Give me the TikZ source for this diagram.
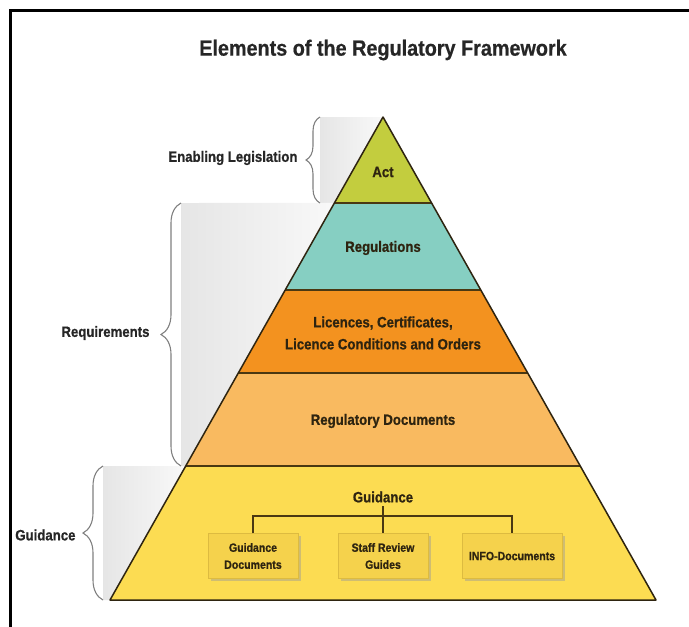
\documentclass[tikz,border=0pt]{standalone}
\usepackage{fontspec}
\setmainfont{Liberation Sans}[FakeStretch=0.88, BoldFeatures={FakeBold=0.8}]
\newfontfamily\titlefont{Liberation Sans}[FakeStretch=0.9, BoldFeatures={FakeBold=0.6}]
\usetikzlibrary{calc}
\usetikzlibrary{decorations.pathreplacing}
\usetikzlibrary{shadows}

\definecolor{actgreen}{HTML}{C3CD3E}
\definecolor{regteal}{HTML}{86CFC2}
\definecolor{licorange}{HTML}{F3921F}
\definecolor{docorange}{HTML}{F9BA60}
\definecolor{guideyellow}{HTML}{FCDC52}
\definecolor{boxyellow}{HTML}{F5D24C}
\definecolor{boxedge}{HTML}{DDBB40}
\definecolor{inkbrown}{HTML}{2E2410}
\definecolor{sepbrown}{HTML}{4A3812}

\begin{document}
\begin{tikzpicture}[x=1pt,y=-1pt,
    label/.style={font=\fontsize{15}{22}\selectfont\bfseries, text=inkbrown, align=center},
    side/.style={font=\fontsize{15}{18}\selectfont\bfseries, text=black!85, anchor=east},
    guidebox/.style={draw=boxedge, line width=0.5pt, fill=boxyellow,
        minimum width=90pt, minimum height=45pt, align=center,
        font=\fontsize{12}{17}\selectfont\bfseries, text=inkbrown,
        drop shadow={shadow xshift=2.5pt, shadow yshift=-2.5pt, fill=black!40, opacity=0.45}},
    sidebrace/.style={decorate, decoration={brace, amplitude=#1}, draw=black!50, line width=1.1pt},
    sepline/.style={draw=sepbrown, line width=2pt},
    connector/.style={draw=sepbrown, line width=1.3pt},
    ]
        \useasboundingbox (0,0) rectangle (689,627);

        % Define the levels of the bands (fraction of the height)
        \def\fa{0.178}   % act / regulations
        \def\fb{0.358}   % regulations / licences
        \def\fc{0.530}   % licences / regulatory documents
        \def\fd{0.7226}  % regulatory documents / guidance

        % Calculate the coordinates of the points
        \coordinate (Top) at (383, 117);
        \coordinate (BL) at (110, 600);
        \coordinate (BR) at (656, 600);
        \coordinate (L1) at ($(Top)!\fa!(BL)$);
        \coordinate (R1) at ($(Top)!\fa!(BR)$);
        \coordinate (L2) at ($(Top)!\fb!(BL)$);
        \coordinate (R2) at ($(Top)!\fb!(BR)$);
        \coordinate (L3) at ($(Top)!\fc!(BL)$);
        \coordinate (R3) at ($(Top)!\fc!(BR)$);
        \coordinate (L4) at ($(Top)!\fd!(BL)$);
        \coordinate (R4) at ($(Top)!\fd!(BR)$);

        % Draw the frame
        \draw[line width=3pt] (10,627) -- (10,10) -- (689,10);

        % Draw title
        \node[font=\titlefont\fontsize{22}{24}\selectfont\bfseries, text=black!85] (title) at (383, 50) {Elements of the Regulatory Framework};

        % Draw gray shades beside the braces
        \shade[left color=gray!20, right color=gray!5] (320,117) -- (Top) -- (L1) -- (320,203) -- cycle;
        \shade[left color=gray!20, right color=gray!5] (181,203) -- (L1) -- (L4) -- (181,466) -- cycle;
        \shade[left color=gray!20, right color=gray!5] (103,466) -- (L4) -- (BL) -- (103,600) -- cycle;

        % Draw the bands
        \fill[actgreen] (Top) -- (R1) -- (L1) -- cycle;
        \fill[regteal] (L1) -- (R1) -- (R2) -- (L2) -- cycle;
        \fill[licorange] (L2) -- (R2) -- (R3) -- (L3) -- cycle;
        \fill[docorange] (L3) -- (R3) -- (R4) -- (L4) -- cycle;
        \fill[guideyellow] (L4) -- (R4) -- (BR) -- (BL) -- cycle;

        % Draw separating lines
        \draw[sepline] (L1) -- (R1);
        \draw[sepline] (L2) -- (R2);
        \draw[sepline] (L3) -- (R3);
        \draw[sepline] (L4) -- (R4);
        \draw[draw=inkbrown, line width=1.5pt, line join=round] (Top) -- (BR) -- (BL) -- cycle;

        % Draw band labels
        \node[label] (act) at (383, 172) {Act};
        \node[label] (regs) at (383, 248) {Regulations};
        \node[label] (lic) at (383, 333) {Licences, Certificates,\\Licence Conditions and Orders};
        \node[label] (rdocs) at (383, 421) {Regulatory Documents};
        \node[label] (guid) at (383, 497) {Guidance};

        % Draw guidance boxes
        \node[guidebox] (gdoc) at (253, 556) {Guidance\\Documents};
        \node[guidebox] (srg) at (383, 556) {Staff Review\\Guides};
        \node[guidebox, minimum width=100pt] (info) at (512, 556) {INFO-Documents};

        \coordinate (bar) at (383, 516);
        \draw[connector] (guid.south) -- (srg.north);
        \draw[connector] (gdoc.north) |- (bar) -| (info.north);

        % Draw braces and their labels
        \draw[sidebrace=14pt] (320, 203) -- (320, 117);
        \draw[sidebrace=20pt] (181, 466) -- (181, 203);
        \draw[sidebrace=20pt] (103, 600) -- (103, 466);
        \node[side] (enab) at (301, 158) {Enabling Legislation};
        \node[side] (req) at (153, 333) {Requirements};
        \node[side] (gside) at (79, 535) {Guidance};

    \end{tikzpicture}
\end{document}
